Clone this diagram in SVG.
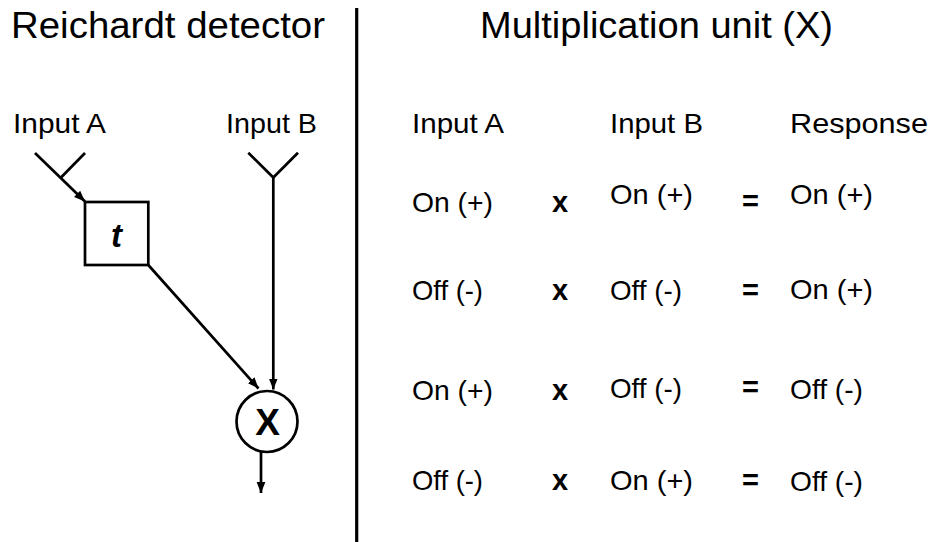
<svg xmlns="http://www.w3.org/2000/svg" width="935" height="542" viewBox="0 0 935 542">
<style>
text{font-family:"Liberation Sans",Arial,Helvetica,sans-serif;fill:#000}
.title{font-size:36px}
.lbl{font-size:28px}
.op{font-size:29px;font-weight:bold}
.ln{stroke:#000;stroke-width:2.7;fill:none}
.shape{stroke:#000;stroke-width:2.7;fill:#fff}
</style>
<defs>
<marker id="arr" markerUnits="userSpaceOnUse" markerWidth="12" markerHeight="10" viewBox="0 0 12 10" refX="11" refY="5" orient="auto">
<path d="M0,0.6 L11,5 L0,9.4 Z" fill="#000"/>
</marker>
</defs>
<rect width="935" height="542" fill="#fff"/>

<g id="title-left"><text class="title" x="11" y="38" textLength="314" lengthAdjust="spacingAndGlyphs">Reichardt detector</text></g>
<g id="title-right"><text class="title" x="480" y="38" textLength="353" lengthAdjust="spacingAndGlyphs">Multiplication unit (X)</text></g>

<g id="divider"><line x1="356.7" y1="8" x2="356.7" y2="542" stroke="#000" stroke-width="3.2"/></g>

<g id="inputA">
<text class="lbl" x="13" y="133" textLength="93" lengthAdjust="spacingAndGlyphs">Input A</text>
<line class="ln" x1="85" y1="153" x2="61" y2="177.5"/>
</g>
<g id="inputB">
<text class="lbl" x="226" y="133" textLength="91" lengthAdjust="spacingAndGlyphs">Input B</text>
<polyline class="ln" points="248.3,152.7 273.3,177.5 298,152.7"/>
</g>
<g id="delay">
<rect class="shape" x="85" y="202" width="63.3" height="63"/>
<text x="116.5" y="247" text-anchor="middle" font-size="33" font-weight="bold" font-style="italic">t</text>
</g>
<g id="multiplier">
<circle class="shape" cx="267" cy="421.5" r="30.5"/>
<text x="267.5" y="435" text-anchor="middle" font-size="37" font-weight="bold">X</text>
</g>

<g id="connectors">
<line class="ln" x1="35" y1="153" x2="85" y2="201.5" marker-end="url(#arr)"/>
<line class="ln" x1="273.3" y1="177.5" x2="273.3" y2="389.5" marker-end="url(#arr)"/>
<line class="ln" x1="148.3" y1="265" x2="258.5" y2="388.5" marker-end="url(#arr)"/>
<line class="ln" x1="261" y1="452" x2="261" y2="493" marker-end="url(#arr)"/>
</g>

<g id="table">
<text class="lbl" x="412" y="133" textLength="92" lengthAdjust="spacingAndGlyphs">Input A</text>
<text class="lbl" x="610" y="133" textLength="93" lengthAdjust="spacingAndGlyphs">Input B</text>
<text class="lbl" x="790" y="133" textLength="138" lengthAdjust="spacingAndGlyphs">Response</text>

<text class="lbl" x="412" y="212" textLength="81" lengthAdjust="spacingAndGlyphs">On (+)</text>
<text class="op" x="552" y="212">x</text>
<text class="lbl" x="610" y="204" textLength="83" lengthAdjust="spacingAndGlyphs">On (+)</text>
<text class="op" x="742" y="211">=</text>
<text class="lbl" x="790" y="204" textLength="83" lengthAdjust="spacingAndGlyphs">On (+)</text>

<text class="lbl" x="412" y="300" textLength="71" lengthAdjust="spacingAndGlyphs">Off (-)</text>
<text class="op" x="552" y="300">x</text>
<text class="lbl" x="610" y="300" textLength="72" lengthAdjust="spacingAndGlyphs">Off (-)</text>
<text class="op" x="742" y="299.5">=</text>
<text class="lbl" x="790" y="299" textLength="83" lengthAdjust="spacingAndGlyphs">On (+)</text>

<text class="lbl" x="412" y="400" textLength="81" lengthAdjust="spacingAndGlyphs">On (+)</text>
<text class="op" x="552" y="400">x</text>
<text class="lbl" x="610" y="398" textLength="72" lengthAdjust="spacingAndGlyphs">Off (-)</text>
<text class="op" x="742" y="397">=</text>
<text class="lbl" x="790" y="399" textLength="73" lengthAdjust="spacingAndGlyphs">Off (-)</text>

<text class="lbl" x="412" y="490" textLength="71" lengthAdjust="spacingAndGlyphs">Off (-)</text>
<text class="op" x="552" y="490">x</text>
<text class="lbl" x="610" y="490" textLength="83" lengthAdjust="spacingAndGlyphs">On (+)</text>
<text class="op" x="742" y="489.5">=</text>
<text class="lbl" x="790" y="491" textLength="73" lengthAdjust="spacingAndGlyphs">Off (-)</text>
</g>
</svg>
